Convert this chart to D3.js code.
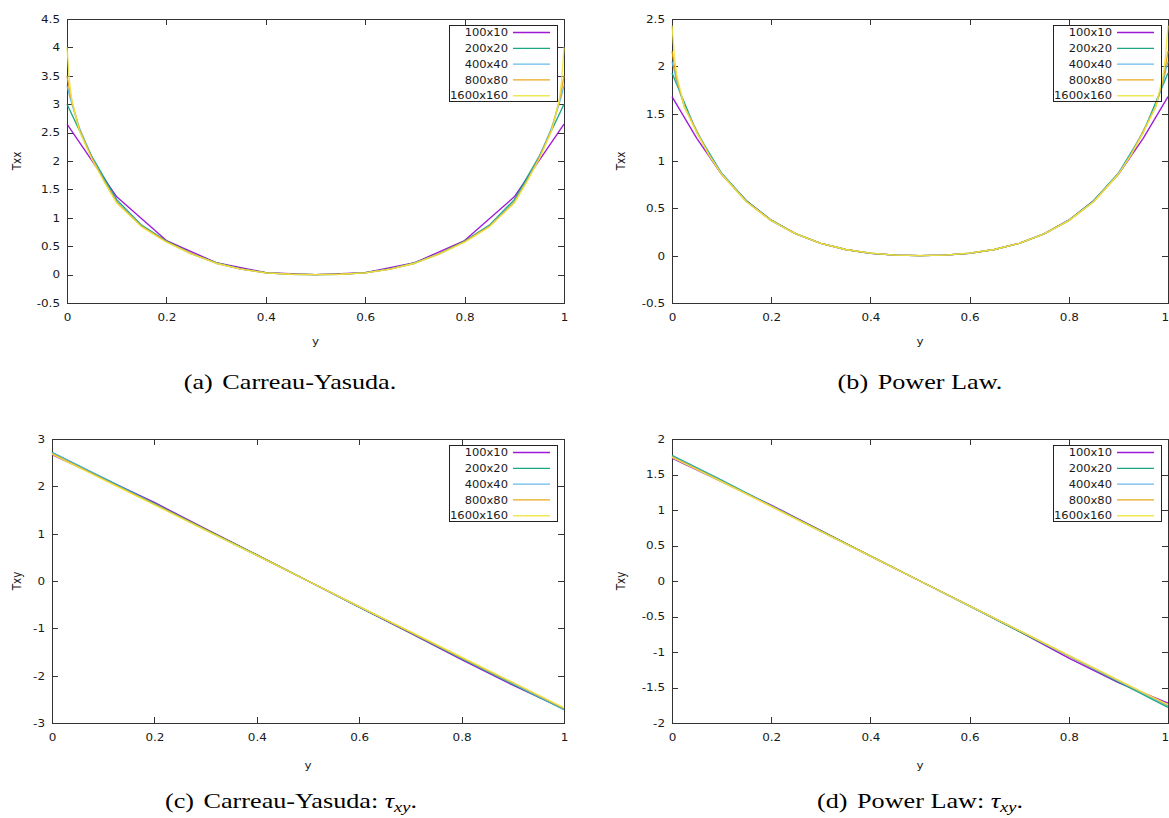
<!DOCTYPE html>
<html><head><meta charset="utf-8">
<script src="https://cdn.jsdelivr.net/npm/d3@7"></script>
<style>body{margin:0;background:#fff;overflow:hidden}</style>
</head><body><svg id="chart" width="1169" height="818"></svg>
<script>
// ---------------- DATA ----------------
const seriesNames = ["100x10", "200x20", "400x40", "800x80", "1600x160"];
const seriesColors = ["#9400d3", "#009e73", "#56b4e9", "#e69f00", "#f0e442"];

const xTicks = [0, 0.2, 0.4, 0.6, 0.8, 1];
const yTicksA = [-0.5, 0, 0.5, 1, 1.5, 2, 2.5, 3, 3.5, 4, 4.5];
const yTicksB = [-0.5, 0, 0.5, 1, 1.5, 2, 2.5];
const yTicksC = [-3, -2, -1, 0, 1, 2, 3];
const yTicksD = [-2, -1.5, -1, -0.5, 0, 0.5, 1, 1.5, 2];

// y positions (abscissa) of the samples
const grid10 = [0, 0.1, 0.2, 0.3, 0.4, 0.5, 0.6, 0.7, 0.8, 0.9, 1];
const grid20 = [0, 0.05, 0.1, 0.15, 0.2, 0.25, 0.3, 0.35, 0.4, 0.45, 0.5, 0.55, 0.6, 0.65, 0.7, 0.75, 0.8, 0.85, 0.9, 0.95, 1];
const gridFine = [0, 0.005, 0.01, 0.025, 0.05, 0.075, 0.1, 0.15, 0.2, 0.25, 0.3, 0.35, 0.4, 0.45, 0.5, 0.55, 0.6, 0.65, 0.7, 0.75, 0.8, 0.85, 0.9, 0.925, 0.95, 0.975, 0.99, 0.995, 1];

// (a) Carreau-Yasuda Txx
const txxCY_100 = [2.65, 1.37, 0.60, 0.21, 0.035, 0.0, 0.035, 0.21, 0.60, 1.37, 2.65];
const txxCY_200 = [3.00, 2.08, 1.32, 0.87, 0.59, 0.37, 0.21, 0.10, 0.035, 0.006, 0.0, 0.006, 0.035, 0.10, 0.21, 0.37, 0.59, 0.87, 1.32, 2.08, 3.00];
const txxCY_400 = [3.33, 3.15, 3.00, 2.58, 2.07, 1.66, 1.29, 0.86, 0.58, 0.37, 0.20, 0.095, 0.03, 0.006, 0.0, 0.006, 0.03, 0.095, 0.20, 0.37, 0.58, 0.86, 1.29, 1.66, 2.07, 2.58, 3.00, 3.15, 3.33];
const txxCY_800 = [3.50, 3.25, 3.05, 2.55, 2.05, 1.64, 1.27, 0.85, 0.58, 0.37, 0.20, 0.095, 0.03, 0.006, 0.0, 0.006, 0.03, 0.095, 0.20, 0.37, 0.58, 0.85, 1.27, 1.64, 2.05, 2.55, 3.05, 3.25, 3.50];
const txxCY_1600 = [4.00, 3.40, 3.05, 2.53, 2.03, 1.63, 1.26, 0.84, 0.57, 0.365, 0.20, 0.095, 0.03, 0.006, 0.0, 0.006, 0.03, 0.095, 0.20, 0.365, 0.57, 0.84, 1.26, 1.63, 2.03, 2.53, 3.05, 3.40, 4.00];

// (b) Power Law Txx
const txxPL_100 = [1.68, 1.24, 0.86, 0.58, 0.375, 0.23, 0.13, 0.065, 0.025, 0.005, 0.0, 0.005, 0.025, 0.065, 0.13, 0.23, 0.375, 0.58, 0.86, 1.24, 1.68];
const txxPL_200 = [1.93, 1.30, 0.87, 0.58, 0.375, 0.23, 0.13, 0.065, 0.025, 0.005, 0.0, 0.005, 0.025, 0.065, 0.13, 0.23, 0.375, 0.58, 0.87, 1.30, 1.93];
const txxPL_400 = [2.05, 1.95, 1.82, 1.58, 1.32, 1.07, 0.87, 0.575, 0.37, 0.23, 0.13, 0.065, 0.027, 0.006, 0.0, 0.006, 0.027, 0.065, 0.13, 0.23, 0.37, 0.575, 0.87, 1.07, 1.32, 1.58, 1.82, 1.95, 2.05];
const txxPL_800 = [2.16, 2.00, 1.86, 1.57, 1.31, 1.06, 0.86, 0.57, 0.37, 0.23, 0.13, 0.065, 0.027, 0.006, 0.0, 0.006, 0.027, 0.065, 0.13, 0.23, 0.37, 0.57, 0.86, 1.06, 1.31, 1.57, 1.86, 2.00, 2.16];
const txxPL_1600 = [2.43, 2.10, 1.90, 1.57, 1.30, 1.06, 0.86, 0.57, 0.37, 0.23, 0.13, 0.065, 0.027, 0.006, 0.0, 0.006, 0.027, 0.065, 0.13, 0.23, 0.37, 0.57, 0.86, 1.06, 1.30, 1.57, 1.90, 2.10, 2.43];

// (c) Carreau-Yasuda Txy
const txyCY_100 = [2.67, 2.17, 1.66, 1.10, 0.55, 0.0, -0.55, -1.10, -1.66, -2.20, -2.70];
const txyCY_200 = [2.72, 2.18, 1.64, 1.09, 0.55, 0.0, -0.55, -1.09, -1.64, -2.18, -2.72];
const txyCY_400 = [2.71, 2.17, 1.63, 1.08, 0.54, 0.0, -0.54, -1.08, -1.63, -2.17, -2.71];
const txyCY_800 = [2.69, 2.15, 1.62, 1.08, 0.54, 0.0, -0.54, -1.08, -1.62, -2.15, -2.69];
const txyCY_1600 = [2.68, 2.14, 1.61, 1.07, 0.54, 0.0, -0.54, -1.07, -1.61, -2.14, -2.68];

// (d) Power Law Txy
const txyPL_100 = [1.73, 1.40, 1.07, 0.71, 0.35, 0.0, -0.35, -0.71, -1.085, -1.43, -1.72];
const txyPL_200 = [1.77, 1.42, 1.06, 0.71, 0.355, 0.0, -0.355, -0.71, -1.06, -1.42, -1.78];
const txyPL_400 = [1.76, 1.41, 1.06, 0.70, 0.35, 0.0, -0.35, -0.70, -1.06, -1.41, -1.76];
const txyPL_800 = [1.75, 1.40, 1.05, 0.70, 0.35, 0.0, -0.35, -0.70, -1.05, -1.40, -1.75];
const txyPL_1600 = [1.74, 1.40, 1.05, 0.70, 0.35, 0.0, -0.35, -0.70, -1.05, -1.40, -1.74];

const xLabel = "y";
const captions = [
  { tag: "(a)", text: "Carreau-Yasuda.", math: false },
  { tag: "(b)", text: "Power Law.", math: false },
  { tag: "(c)", text: "Carreau-Yasuda: ", math: true },
  { tag: "(d)", text: "Power Law: ", math: true }
];

// ---------------- LAYOUT ----------------
const SX = 1.15;   // horizontal stretch of the original figure (sans text)
const CSX = 1.19;  // horizontal stretch for captions
const panels = [
  { left: 67, right: 564, top: 19, bottom: 303, yDomain: [-0.5, 4.5], yTicks: yTicksA, yLabel: "Txx", yLabelX: 20.5, xLabelY: 345, capX: 290, capY: 389,
    data: [[grid10, txxCY_100], [grid20, txxCY_200], [gridFine, txxCY_400], [gridFine, txxCY_800], [gridFine, txxCY_1600]] },
  { left: 672, right: 1168, top: 19, bottom: 303, yDomain: [-0.5, 2.5], yTicks: yTicksB, yLabel: "Txx", yLabelX: 625, xLabelY: 345, capX: 920, capY: 389,
    data: [[grid20, txxPL_100], [grid20, txxPL_200], [gridFine, txxPL_400], [gridFine, txxPL_800], [gridFine, txxPL_1600]] },
  { left: 52, right: 564, top: 439, bottom: 723, yDomain: [-3, 3], yTicks: yTicksC, yLabel: "Txy", yLabelX: 20.5, xLabelY: 769, capX: 291, capY: 808,
    data: [[grid10, txyCY_100], [grid10, txyCY_200], [grid10, txyCY_400], [grid10, txyCY_800], [grid10, txyCY_1600]] },
  { left: 672, right: 1168, top: 439, bottom: 723, yDomain: [-2, 2], yTicks: yTicksD, yLabel: "Txy", yLabelX: 625, xLabelY: 769, capX: 920, capY: 808,
    data: [[grid10, txyPL_100], [grid10, txyPL_200], [grid10, txyPL_400], [grid10, txyPL_800], [grid10, txyPL_1600]] }
];

const SANS = "'DejaVu Sans', sans-serif";
const SERIF = "'Liberation Serif', 'Times New Roman', serif";
const TXT = "#1a1a1a";
const AX = "#333";
const fmt = d => String(d);
const W = 1169;

const svg = d3.select("#chart");

function stretchTexts(sel) {
  sel.each(function () {
    const t = d3.select(this);
    const x = +t.attr("x") || 0, y = +t.attr("y") || 0;
    t.attr("x", null).attr("y", null).attr("transform", `translate(${x},${y}) scale(${SX},1)`);
  });
}

panels.forEach((p, pi) => {
  const g = svg.append("g");
  const x = d3.scaleLinear().domain([0, 1]).range([p.left, p.right]);
  const y = d3.scaleLinear().domain(p.yDomain).range([p.bottom, p.top]);

  function styleAxis(a) {
    a.attr("color", AX).attr("font-family", SANS).attr("font-size", 10.4);
    a.select(".domain").remove();
    a.selectAll("line").attr("stroke-width", 1).attr("shape-rendering", "crispEdges");
    a.selectAll("text").attr("fill", TXT);
  }
  const aL = g.append("g").attr("transform", `translate(${p.left},0)`)
    .call(d3.axisLeft(y).tickValues(p.yTicks).tickSize(-6).tickSizeOuter(0).tickPadding(7).tickFormat(fmt));
  styleAxis(aL); stretchTexts(aL.selectAll("text"));
  const aR = g.append("g").attr("transform", `translate(${p.right},0)`)
    .call(d3.axisRight(y).tickValues(p.yTicks).tickSize(-6).tickSizeOuter(0).tickFormat(""));
  styleAxis(aR);
  const aB = g.append("g").attr("transform", `translate(0,${p.bottom})`)
    .call(d3.axisBottom(x).tickValues(xTicks).tickSize(-6).tickSizeOuter(0).tickPadding(11).tickFormat(fmt));
  styleAxis(aB); stretchTexts(aB.selectAll("text"));
  // keep a tick label at the page edge inside the page
  aB.selectAll(".tick").each(function (d) {
    if (x(d) > W - 6) d3.select(this).select("text").attr("text-anchor", "end")
      .attr("transform", `translate(${W - 0.5 - x(d)},11) scale(${SX},1)`);
  });
  const aT = g.append("g").attr("transform", `translate(0,${p.top})`)
    .call(d3.axisTop(x).tickValues(xTicks).tickSize(-6).tickSizeOuter(0).tickFormat(""));
  styleAxis(aT);

  g.append("rect").attr("x", p.left).attr("y", p.top).attr("width", p.right - p.left).attr("height", p.bottom - p.top)
    .attr("fill", "none").attr("stroke", AX).attr("stroke-width", 1).attr("shape-rendering", "crispEdges");

  // axis titles
  g.append("text").attr("transform", `translate(${(p.left + p.right) / 2},${p.xLabelY}) scale(${SX},1)`)
    .attr("text-anchor", "middle").attr("font-family", SANS).attr("font-size", 10.4).attr("fill", TXT).text(xLabel);
  g.append("text").attr("transform", `translate(${p.yLabelX},${(p.top + p.bottom) / 2}) rotate(-90) scale(1,${SX})`)
    .attr("text-anchor", "middle").attr("font-family", SANS).attr("font-size", 10.4).attr("fill", TXT).text(p.yLabel);

  // curves
  const clipId = "clip" + pi;
  g.append("clipPath").attr("id", clipId).append("rect")
    .attr("x", p.left - 1).attr("y", p.top - 1).attr("width", p.right - p.left + 2).attr("height", p.bottom - p.top + 2);
  const line = d3.line().x(d => x(d[0])).y(d => y(d[1]));
  p.data.forEach((s, i) => {
    const pts = s[0].map((gx, j) => [gx, s[1][j]]);
    g.append("path").attr("clip-path", `url(#${clipId})`).attr("d", line(pts))
      .attr("fill", "none").attr("stroke", seriesColors[i]).attr("stroke-width", 1.35)
      .attr("stroke-opacity", 0.9).attr("stroke-linejoin", "round");
  });

  // legend
  const bw = 108, bh = 76;
  const bx = p.right - 7 - bw, by = p.top + 6;
  const lg = g.append("g");
  lg.append("rect").attr("x", bx + 0.5).attr("y", by + 0.5).attr("width", bw).attr("height", bh)
    .attr("fill", "none").attr("stroke", "#222").attr("stroke-width", 1);
  seriesNames.forEach((n, i) => {
    const cy = by + 7.5 + i * 15.8;
    lg.append("text").attr("transform", `translate(${bx + 59},${cy}) scale(${SX},1)`).attr("dy", "0.36em")
      .attr("text-anchor", "end").attr("font-family", SANS).attr("font-size", 10).attr("fill", TXT).text(n);
    lg.append("line").attr("x1", bx + 64).attr("x2", bx + 101).attr("y1", cy).attr("y2", cy)
      .attr("stroke", seriesColors[i]).attr("stroke-width", 1.35).attr("stroke-opacity", 0.9);
  });

  // caption
  const c = captions[pi];
  const ct = g.append("text").attr("transform", `translate(${p.capX},${p.capY}) scale(${CSX},1)`)
    .attr("text-anchor", "middle").attr("font-family", SERIF).attr("font-size", 22).attr("fill", "#000");
  ct.append("tspan").text(c.tag);
  ct.append("tspan").attr("dx", 8).text(c.text);
  if (c.math) {
    ct.append("tspan").attr("font-style", "italic").text("τ");
    ct.append("tspan").attr("font-style", "italic").attr("font-size", 15.5).attr("dy", 4).text("xy");
    ct.append("tspan").attr("dy", -4).text(".");
  }
});
</script>
</body></html>
